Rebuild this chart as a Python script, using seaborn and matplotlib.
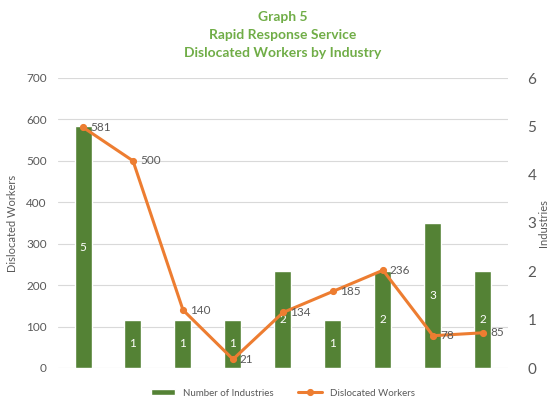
import numpy as np
import pandas as pd
import matplotlib
matplotlib.use("Agg")
import matplotlib.pyplot as plt
import seaborn as sns

# values
categories = ["I1", "I2", "I3", "I4", "I5", "I6", "I7", "I8", "I9"]
num_industries = [5, 1, 1, 1, 2, 1, 2, 3, 2]
dislocated = [581, 500, 140, 21, 134, 185, 236, 78, 85]
left_ticks = [0, 100, 200, 300, 400, 500, 600, 700]
right_ticks = [0, 1, 2, 3, 4, 5, 6]

df = pd.DataFrame({"cat": categories, "ind": num_industries, "workers": dislocated})

sns.set_style("white")
plt.rcParams["font.family"] = ["Lato", "DejaVu Sans"]

green = "#548235"
orange = "#ED7D31"
grey = "#595959"

fig = plt.figure(figsize=(5.51, 4.01), dpi=100)
ax = fig.add_axes([58 / 551, 1 - 368 / 401, 450 / 551, 290 / 401])
ax2 = ax.twinx()
ax3 = ax.twinx()

# base axis: left scale + gridlines
ax.set_ylim(0, 700)
ax.set_yticks(left_ticks)
ax.grid(axis="y", color="#d9d9d9", linewidth=0.8)
ax.tick_params(axis="y", labelsize=8.5, labelcolor=grey, length=0, pad=8)
ax.set_ylabel("Dislocated Workers", fontsize=8, color=grey)
ax.yaxis.set_label_coords(-40 / 450, 0.5)

# bars on the right scale
sns.barplot(data=df, x="cat", y="ind", ax=ax2, color=green, width=0.34,
            saturation=1, label="Number of Industries", legend=False)
ax2.set_ylim(0, 6)
ax2.set_yticks(right_ticks)
ax2.tick_params(axis="y", labelsize=11, labelcolor=grey, length=0, pad=14)
ax2.set_ylabel("Industries", fontsize=8, color=grey)
ax2.yaxis.set_label_coords(1 + 30 / 450, 0.5)
for c in ax2.containers:
    ax2.bar_label(c, label_type="center", color="white", fontsize=8.5)

# line on the left scale, drawn on top
sns.pointplot(data=df, x="cat", y="workers", ax=ax3, color=orange,
              markersize=3.5, linewidth=2.2, label="Dislocated Workers")
ax3.set_ylim(0, 700)
ax3.set_yticks([])
ax3.set_ylabel("")
for i, v in enumerate(dislocated):
    ax3.annotate(str(v), (i, v), xytext=(5, 0), textcoords="offset points",
                 va="center", ha="left", fontsize=8.5, color=grey)

h2, l2 = ax2.get_legend_handles_labels()
h3, l3 = ax3.get_legend_handles_labels()
for a in (ax, ax2, ax3):
    if a.get_legend() is not None:
        a.get_legend().remove()
    a.set_xlim(-0.5, 8.5)
    a.set_xticks([])
    a.set_xlabel("")
    for s in a.spines.values():
        s.set_visible(False)
ax2.patch.set_visible(False)
ax3.patch.set_visible(False)

# title
for txt, y in [("Graph 5", 17), ("Rapid Response Service", 35),
               ("Dislocated Workers by Industry", 53)]:
    fig.text(283 / 551, 1 - y / 401, txt, ha="center", va="center",
             fontsize=10, fontweight="bold", color="#70AD47")

fig.legend(h2 + h3, l2 + l3, loc="center", bbox_to_anchor=(283 / 551, 1 - 393 / 401),
           ncol=2, frameon=False, fontsize=7, labelcolor=grey, columnspacing=2.5,
           handlelength=2.5, handleheight=0.5)

fig.savefig("out.png", dpi=100)
